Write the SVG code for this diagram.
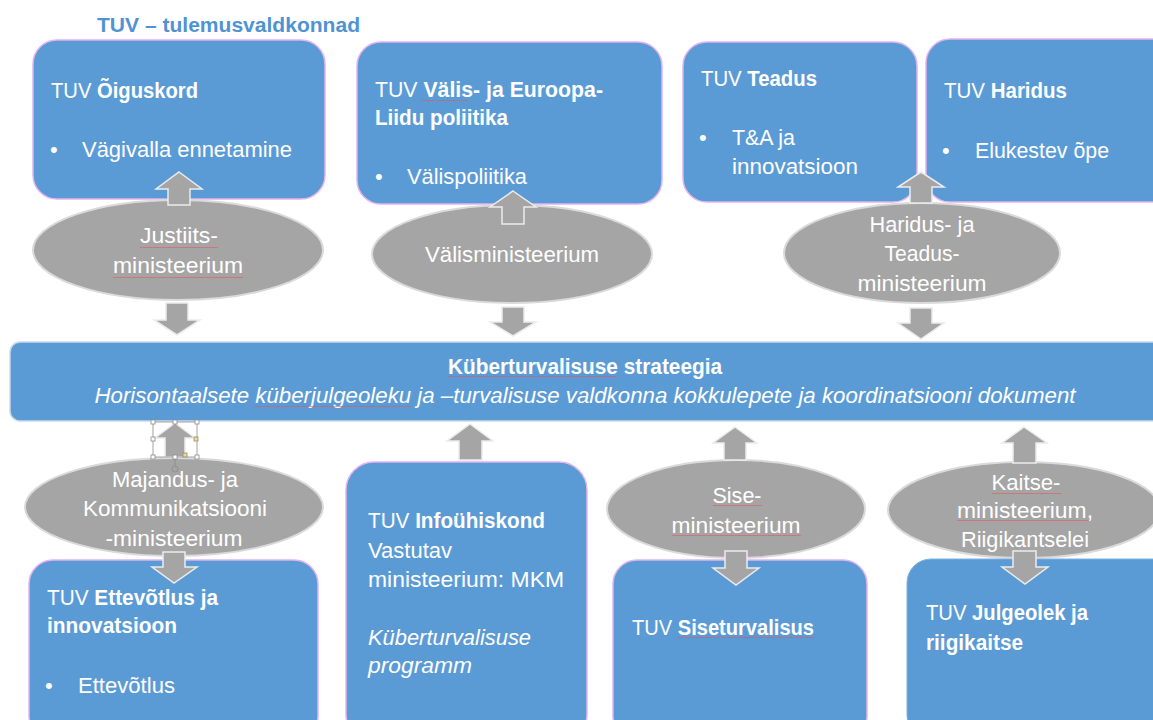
<svg xmlns="http://www.w3.org/2000/svg" width="1153" height="720" viewBox="0 0 1153 720">
<defs>
<style>
.box{fill:#5b9bd5;stroke:#e3b3ef;stroke-width:1.5}
.boxb{fill:#5b9bd5;stroke:#7fb2e0;stroke-width:1}
.bar{fill:#5b9bd5;stroke:#c9d9ea;stroke-width:1.5}
.ell{fill:#a5a5a5;stroke:#dadada;stroke-width:2}
.arr{fill:#a5a5a5;stroke:#ececec;stroke-width:1.5}
text{font-family:"Liberation Sans",Arial,sans-serif;fill:#ffffff;font-size:22px}
.b{font-weight:bold}
.i{font-style:italic}
.c{text-anchor:middle}
.title{fill:#5093d3;font-weight:bold;font-size:21px}
.wavy{fill:url(#wv)}
.h{fill:#ffffff;stroke:#8c8c8c;stroke-width:0.8}
.hy{fill:#f5dc6e;stroke:#8c8c8c;stroke-width:0.8}
</style>
<pattern id="wv" width="3" height="3" patternUnits="userSpaceOnUse">
<path d="M0,2 L0.75,1 L1.5,2 L2.25,1 L3,2" fill="none" stroke="#e8505a" stroke-width="0.5"/>
</pattern>
</defs>
<rect width="1153" height="720" fill="#ffffff"/>
<text class="title" x="97" y="32" textLength="263" lengthAdjust="spacingAndGlyphs">TUV – tulemusvaldkonnad</text>

<g id="box-oiguskord">
<rect class="box" x="33" y="40" width="292" height="159" rx="24"/>
<text x="51" y="98" textLength="147" lengthAdjust="spacingAndGlyphs">TUV <tspan class="b">Õiguskord</tspan></text>
<text x="50" y="157">•</text>
<text x="82" y="157" textLength="210" lengthAdjust="spacingAndGlyphs">Vägivalla ennetamine</text>
</g>
<g id="box-valis">
<rect class="box" x="357" y="42" width="305" height="162" rx="24"/>
<text x="375" y="97" textLength="228" lengthAdjust="spacingAndGlyphs">TUV <tspan class="b">Välis- ja Euroopa-</tspan></text>
<text class="b" x="375" y="125" textLength="133" lengthAdjust="spacingAndGlyphs">Liidu poliitika</text>
<text x="375" y="184">•</text>
<text x="407" y="184" textLength="120" lengthAdjust="spacingAndGlyphs">Välispoliitika</text>
<rect class="wavy" x="422" y="99" width="46" height="3"/>
</g>
<g id="box-teadus">
<rect class="box" x="683" y="42" width="234" height="160" rx="24"/>
<text x="701" y="86" textLength="116" lengthAdjust="spacingAndGlyphs">TUV <tspan class="b">Teadus</tspan></text>
<text x="699" y="145">•</text>
<text x="732" y="145" textLength="63" lengthAdjust="spacingAndGlyphs">T&amp;A ja</text>
<text x="732" y="174" textLength="126" lengthAdjust="spacingAndGlyphs">innovatsioon</text>
</g>
<g id="box-haridus">
<rect class="box" x="926" y="39" width="250" height="163" rx="24"/>
<text x="944" y="98" textLength="123" lengthAdjust="spacingAndGlyphs">TUV <tspan class="b">Haridus</tspan></text>
<text x="942" y="158">•</text>
<text x="975" y="158" textLength="134" lengthAdjust="spacingAndGlyphs">Elukestev õpe</text>
</g>

<g id="ell-justiits">
<ellipse class="ell" cx="178" cy="250" rx="145" ry="50"/>
<text class="c" x="179" y="243" textLength="78" lengthAdjust="spacingAndGlyphs">Justiits-</text>
<text class="c" x="178" y="273" textLength="130" lengthAdjust="spacingAndGlyphs">ministeerium</text>
<rect class="wavy" x="140" y="245" width="78" height="3"/>
<rect class="wavy" x="113" y="275" width="130" height="3"/>
</g>
<g id="ell-valis">
<ellipse class="ell" cx="512" cy="254" rx="140" ry="49"/>
<text class="c" x="512" y="262" textLength="174" lengthAdjust="spacingAndGlyphs">Välisministeerium</text>
</g>
<g id="ell-haridus">
<ellipse class="ell" cx="922" cy="253" rx="138" ry="50"/>
<text class="c" x="922" y="232" textLength="105" lengthAdjust="spacingAndGlyphs">Haridus- ja</text>
<text class="c" x="922" y="261" textLength="75" lengthAdjust="spacingAndGlyphs">Teadus-</text>
<text class="c" x="922" y="291" textLength="129" lengthAdjust="spacingAndGlyphs">ministeerium</text>
</g>

<g id="bar-strateegia">
<rect class="bar" x="10" y="342" width="1170" height="79" rx="10"/>
<text class="c b" x="585" y="374" textLength="274" lengthAdjust="spacingAndGlyphs">Küberturvalisuse strateegia</text>
<text class="c i" x="585" y="403" textLength="981" lengthAdjust="spacingAndGlyphs">Horisontaalsete küberjulgeoleku ja –turvalisuse valdkonna kokkulepete ja koordinatsiooni dokument</text>
<rect class="wavy" x="448" y="376" width="169" height="3"/>
<rect class="wavy" x="254" y="405" width="157" height="3"/>
</g>

<g id="ell-majandus">
<ellipse class="ell" cx="174" cy="507" rx="149" ry="49"/>
<text class="c" x="175" y="487" textLength="126" lengthAdjust="spacingAndGlyphs">Majandus- ja</text>
<text class="c" x="175" y="516" textLength="184" lengthAdjust="spacingAndGlyphs">Kommunikatsiooni</text>
<text class="c" x="174" y="546" textLength="137" lengthAdjust="spacingAndGlyphs">-ministeerium</text>
</g>
<g id="box-ettevotlus">
<rect class="box" x="29" y="560" width="289" height="180" rx="24"/>
<text x="47" y="605" textLength="171" lengthAdjust="spacingAndGlyphs">TUV <tspan class="b">Ettevõtlus ja</tspan></text>
<text class="b" x="47" y="633" textLength="130" lengthAdjust="spacingAndGlyphs">innovatsioon</text>
<text x="45" y="693">•</text>
<text x="78" y="693" textLength="97" lengthAdjust="spacingAndGlyphs">Ettevõtlus</text>
</g>
<g id="box-infouhiskond">
<rect class="box" x="346" y="462" width="241" height="280" rx="28"/>
<text x="368" y="528" textLength="177" lengthAdjust="spacingAndGlyphs">TUV <tspan class="b">Infoühiskond</tspan></text>
<text x="368" y="558" textLength="84" lengthAdjust="spacingAndGlyphs">Vastutav</text>
<text x="368" y="587" textLength="196" lengthAdjust="spacingAndGlyphs">ministeerium: MKM</text>
<text class="i" x="368" y="645" textLength="163" lengthAdjust="spacingAndGlyphs">Küberturvalisuse</text>
<text class="i" x="368" y="673" textLength="104" lengthAdjust="spacingAndGlyphs">programm</text>
</g>
<g id="ell-sise">
<ellipse class="ell" cx="736" cy="509" rx="129" ry="49"/>
<text class="c" x="737" y="503" textLength="49" lengthAdjust="spacingAndGlyphs">Sise-</text>
<text class="c" x="736" y="533" textLength="129" lengthAdjust="spacingAndGlyphs">ministeerium</text>
<rect class="wavy" x="713" y="505" width="49" height="3"/>
<rect class="wavy" x="672" y="535" width="129" height="3"/>
</g>
<g id="box-siseturvalisus">
<rect class="box" x="613" y="560" width="254" height="180" rx="24"/>
<text x="632" y="635" textLength="182" lengthAdjust="spacingAndGlyphs">TUV <tspan class="b">Siseturvalisus</tspan></text>
<rect class="wavy" x="678" y="637" width="136" height="3"/>
</g>
<g id="ell-kaitse">
<ellipse class="ell" cx="1024" cy="510" rx="136" ry="48"/>
<text class="c" x="1026" y="490" textLength="69" lengthAdjust="spacingAndGlyphs">Kaitse-</text>
<text class="c" x="1025" y="518" textLength="136" lengthAdjust="spacingAndGlyphs">ministeerium,</text>
<text class="c" x="1025" y="547" textLength="128" lengthAdjust="spacingAndGlyphs">Riigikantselei</text>
<rect class="wavy" x="992" y="492" width="69" height="3"/>
<rect class="wavy" x="957" y="520" width="132" height="3"/>
</g>
<g id="box-julgeolek">
<rect class="boxb" x="907" y="559" width="270" height="180" rx="24"/>
<text x="926" y="620" textLength="162" lengthAdjust="spacingAndGlyphs">TUV <tspan class="b">Julgeolek ja</tspan></text>
<text class="b" x="926" y="650" textLength="97" lengthAdjust="spacingAndGlyphs">riigikaitse</text>
</g>

<g id="connectors">
<polygon class="arr" points="179,172 202,189 190,189 190,205 168,205 168,189 156,189"/>
<polygon class="arr" points="513,191 536,207 524,207 524,224 502,224 502,207 490,207"/>
<polygon class="arr" points="921,172 944,187 932,187 932,203 910,203 910,187 898,187"/>
<polygon class="arr" points="166,303 188,303 188,320 200,320 177,335 154,320 166,320"/>
<polygon class="arr" points="502,307 524,307 524,322 536,322 513,336 490,322 502,322"/>
<polygon class="arr" points="910,308 932,308 932,323 944,323 921,339 898,323 910,323"/>
<polygon class="arr" points="175,423 195,438 185,438 185,457 165,457 165,438 155,438"/>
<polygon class="arr" points="470,424 493,441 482,441 482,460 459,460 459,441 447,441"/>
<polygon class="arr" points="735,427 757,443 746,443 746,460 724,460 724,443 713,443"/>
<polygon class="arr" points="1024,427 1047,443 1036,443 1036,463 1013,463 1013,443 1002,443"/>
<polygon class="arr" points="163,552 185,552 185,567 197,567 174,583 152,567 163,567"/>
<polygon class="arr" points="725,551 747,551 747,568 759,568 736,585 713,568 725,568"/>
<polygon class="arr" points="1013,551 1036,551 1036,567 1048,567 1025,584 1002,567 1013,567"/>
</g>

<g id="selection">
<rect x="153" y="422" width="44" height="35" fill="none" stroke="#8c8c8c" stroke-width="0.8"/>
<line x1="175" y1="457" x2="175" y2="466" stroke="#8c8c8c" stroke-width="0.8"/>
<circle cx="175" cy="469" r="3" fill="none" stroke="#8c8c8c" stroke-width="0.8"/>
<rect class="h" x="151" y="420" width="4" height="4"/>
<rect class="h" x="173" y="420" width="4" height="4"/>
<rect class="h" x="195" y="420" width="4" height="4"/>
<rect class="h" x="151" y="437" width="4" height="4"/>
<rect class="h" x="151" y="455" width="4" height="4"/>
<rect class="h" x="173" y="455" width="4" height="4"/>
<rect class="h" x="195" y="455" width="4" height="4"/>
<rect class="hy" x="194" y="437" width="4" height="4"/>
<rect class="hy" x="183" y="453" width="4" height="4"/>
</g>
</svg>
